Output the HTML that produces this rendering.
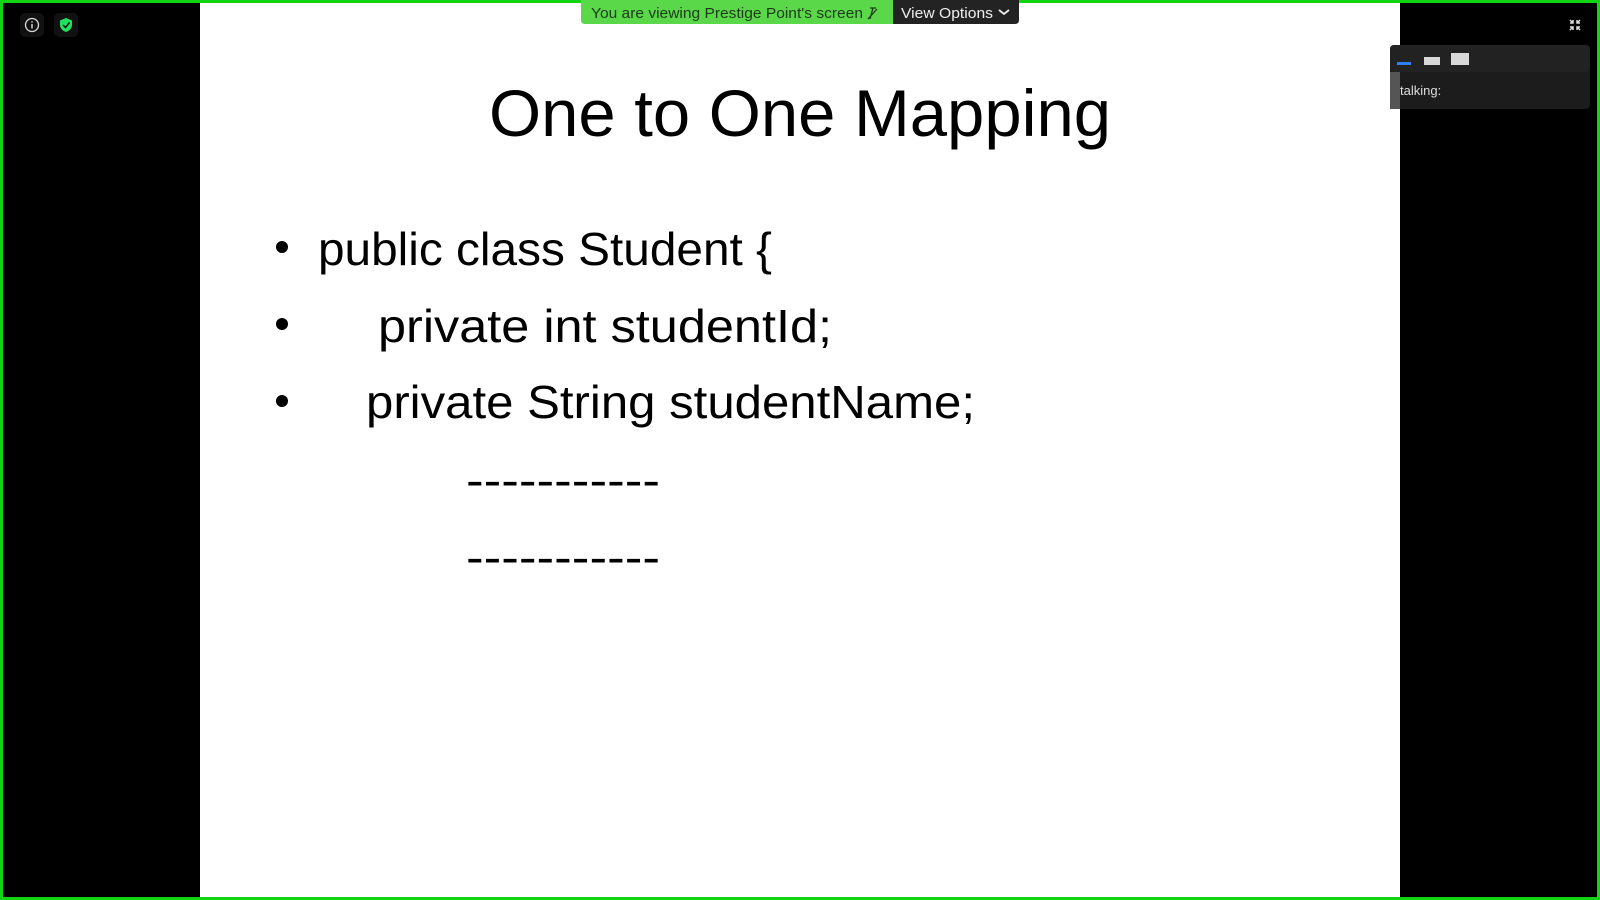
<!DOCTYPE html>
<html><head><style>
html,body{margin:0;padding:0;width:1600px;height:900px;overflow:hidden;background:#000;}
</style></head><body>
<svg width="1600" height="900" xmlns="http://www.w3.org/2000/svg" font-family="Liberation Sans, sans-serif">
<rect width="1600" height="900" fill="#000"/>
<rect x="200" y="0" width="1200" height="900" fill="#fff"/>
<rect x="1.5" y="1.5" width="1597" height="897" fill="none" stroke="#13d413" stroke-width="3"/>
<rect x="20" y="13" width="24" height="24" rx="5" fill="#111"/>
<circle cx="32" cy="25" r="6.5" fill="none" stroke="#ddd" stroke-width="1.3"/>
<rect x="31.3" y="24" width="1.4" height="4.5" fill="#ddd"/><rect x="31.3" y="21.2" width="1.4" height="1.4" fill="#ddd"/>
<rect x="54" y="13" width="24" height="24" rx="5" fill="#111"/>
<path d="M66 18 L72 20.5 V25 C72 28.5 69 31 66 32 C63 31 60 28.5 60 25 V20.5 Z" fill="#20e060"/>
<path d="M63 25 L65.5 27.5 L69.5 22.5" fill="none" stroke="#111" stroke-width="1.5"/>
<path d="M581 0 H893 V24 H585 Q581 24 581 20 Z" fill="#5ad84a"/>
<path d="M893 0 H1019 V20 Q1019 24 1015 24 H893 Z" fill="#232323"/>
<text x="591" y="18" font-size="15" fill="#1d3a1a" textLength="272" lengthAdjust="spacingAndGlyphs">You are viewing Prestige Point's screen</text>
<path d="M870 8 L876 8 M873 8 L870 19 M868 19 L877 9" stroke="#1d3a1a" stroke-width="1.3" fill="none"/>
<text x="901" y="18" font-size="15" fill="#eee" textLength="92" lengthAdjust="spacingAndGlyphs">View Options</text>
<path d="M999 10 L1004 14 L1009 10" stroke="#eee" stroke-width="1.8" fill="none"/>
<g stroke="#ddd" stroke-width="1.5" fill="none">
<path d="M1570 20 L1573 23 M1573 20 V23 H1570"/>
<path d="M1580 20 L1577 23 M1577 20 V23 H1580"/>
<path d="M1570 30 L1573 27 M1573 30 V27 H1570"/>
<path d="M1580 30 L1577 27 M1577 30 V27 H1580"/>
</g>
<rect x="1390" y="45" width="200" height="64" rx="4" fill="#1c1c1c"/>
<rect x="1390" y="45" width="200" height="27" rx="4" fill="#222"/>
<rect x="1390" y="72" width="10" height="37" fill="#555"/>
<rect x="1397" y="62" width="14" height="3" fill="#2d7ff9"/>
<rect x="1424" y="57" width="16" height="8" fill="#d8d8d8"/>
<rect x="1451" y="53" width="18" height="12" fill="#d8d8d8"/>
<text x="1400" y="95" font-size="13" fill="#ddd">talking:</text>
<text x="489" y="136" font-size="66" fill="#000" textLength="622" lengthAdjust="spacingAndGlyphs">One to One Mapping</text>
<circle cx="282" cy="247" r="6" fill="#000"/>
<circle cx="282" cy="324" r="6" fill="#000"/>
<circle cx="282" cy="401" r="6" fill="#000"/>
<g font-size="46" fill="#000">
<text x="318" y="265" textLength="454" lengthAdjust="spacingAndGlyphs">public class Student {</text>
<text x="378" y="342" textLength="454" lengthAdjust="spacingAndGlyphs">private int studentId;</text>
<text x="366" y="418" textLength="609" lengthAdjust="spacingAndGlyphs">private String studentName;</text>
<text x="466" y="496" textLength="194" lengthAdjust="spacingAndGlyphs">-----------</text>
<text x="466" y="573" textLength="194" lengthAdjust="spacingAndGlyphs">-----------</text>
</g>
</svg>
</body></html>
